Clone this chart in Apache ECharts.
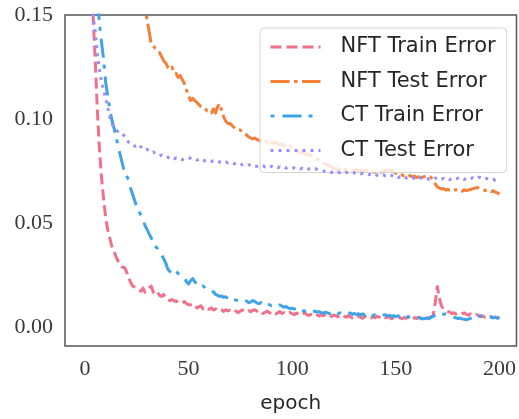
<!DOCTYPE html>
<html>
<head>
<meta charset="utf-8">
<script src="https://cdn.jsdelivr.net/npm/echarts@6/dist/echarts.min.js"></script>
<style>
html,body{margin:0;padding:0;background:#fff;}
#chart{width:519px;height:419px;}
</style>
</head>
<body>
<div id="chart"></div>
<script>
var seriesNames = ["NFT Train Error", "NFT Test Error", "CT Train Error", "CT Test Error"];
var xTickValues = [0, 50, 100, 150, 200];
var yTickValues = [0, 0.05, 0.10, 0.15];
var xAxisName = "epoch";

var nftTrain = [
0.45,0.28,0.19,0.148,0.128,0.104,0.086,0.072,0.062,0.053,
0.047,0.043,0.039,0.037,0.034,0.032,0.030,0.029,0.029,0.027,
0.024,0.022,0.020,0.0195,0.019,0.018,0.0175,0.019,0.017,0.018,
0.019,0.020,0.017,0.016,0.017,0.0155,0.015,0.016,0.014,0.0135,
0.013,0.0135,0.013,0.0125,0.013,0.0128,0.012,0.0125,0.0115,0.011,
0.011,0.0105,0.011,0.0095,0.010,0.0105,0.009,0.0098,0.0092,0.0088,
0.0095,0.0085,0.009,0.0082,0.0088,0.0085,0.0078,0.0086,0.008,0.0084,
0.0076,0.0082,0.0079,0.0072,0.008,0.0085,0.0078,0.0074,0.0081,0.0077,
0.0083,0.0086,0.0079,0.0071,0.0076,0.0068,0.0074,0.0079,0.0072,0.0069,
0.0075,0.0066,0.0071,0.0077,0.0068,0.0072,0.0064,0.0069,0.0073,0.0067,
0.0062,0.007,0.0065,0.0059,0.0066,0.0071,0.0063,0.0058,0.0064,0.006,
0.0067,0.0061,0.0056,0.0063,0.0057,0.0062,0.0068,0.0059,0.0054,0.0061,
0.0057,0.0052,0.0059,0.0063,0.0055,0.005,0.0058,0.0053,0.0047,0.0055,
0.005,0.0056,0.0049,0.0045,0.0053,0.0058,0.0051,0.0046,0.0052,0.0048,
0.0055,0.005,0.0044,0.0051,0.0047,0.0053,0.0049,0.0043,0.005,0.0046,
0.0052,0.0047,0.0043,0.0049,0.0045,0.0051,0.0046,0.0042,0.0048,0.0044,
0.005,0.0046,0.0041,0.0047,0.0045,0.0049,0.0052,0.0058,0.012,0.0198,
0.014,0.0105,0.009,0.0082,0.0078,0.0074,0.0068,0.0072,0.0065,0.0069,
0.0063,0.0067,0.0071,0.0064,0.006,0.0066,0.0061,0.0057,0.0063,0.0058,
0.0052,0.0056,0.005,0.0054,0.0049,0.0053,0.0047,0.0051,0.0046,0.0049
];

var nftTest = [
0.52,0.45,0.40,0.36,0.33,0.30,0.28,0.26,0.245,0.23,
0.22,0.21,0.20,0.195,0.19,0.185,0.18,0.176,0.172,0.169,
0.166,0.164,0.162,0.160,0.158,0.157,0.155,0.154,0.152,0.148,
0.142,0.136,0.135,0.134,0.133,0.132,0.130,0.128,0.127,0.125,
0.124,0.125,0.122,0.122,0.120,0.121,0.119,0.117,0.114,0.111,
0.109,0.110,0.109,0.108,0.107,0.106,0.1057,0.105,0.104,0.104,
0.103,0.105,0.103,0.106,0.1075,0.104,0.101,0.099,0.098,0.098,
0.097,0.096,0.095,0.095,0.0948,0.094,0.093,0.0925,0.0915,0.091,
0.0905,0.091,0.0902,0.090,0.0895,0.0905,0.0898,0.089,0.090,0.0888,
0.0885,0.089,0.088,0.0875,0.0882,0.087,0.0876,0.0865,0.087,0.0862,
0.0858,0.085,0.0845,0.084,0.0842,0.0835,0.083,0.0834,0.0825,0.082,
0.0815,0.081,0.0805,0.0798,0.079,0.0785,0.078,0.0776,0.077,0.0765,
0.076,0.0762,0.0758,0.0764,0.0756,0.076,0.0754,0.0758,0.0752,0.0756,
0.0759,0.0753,0.0757,0.075,0.0754,0.0755,0.0749,0.0752,0.0747,0.0745,
0.0749,0.0744,0.0748,0.075,0.0754,0.0757,0.0753,0.0755,0.0748,0.0741,
0.0735,0.073,0.0733,0.0728,0.0731,0.0726,0.073,0.0724,0.0727,0.072,
0.0724,0.0719,0.0722,0.0726,0.073,0.0727,0.0721,0.0705,0.069,0.0675,
0.067,0.0665,0.0668,0.066,0.0663,0.066,0.0664,0.0658,0.0662,0.0657,
0.066,0.0655,0.0661,0.0658,0.066,0.0663,0.0666,0.0669,0.0672,0.067,
0.0665,0.0661,0.0658,0.0662,0.0655,0.0652,0.0657,0.065,0.0646,0.0642
];

var ctTrain = [
0.6,0.4,0.28,0.21,0.175,0.158,0.146,0.137,0.129,0.118,
0.111,0.105,0.0995,0.096,0.092,0.087,0.083,0.079,0.075,0.073,
0.071,0.067,0.064,0.061,0.058,0.056,0.054,0.052,0.049,0.047,
0.045,0.043,0.041,0.039,0.038,0.036,0.035,0.033,0.031,0.028,
0.027,0.028,0.027,0.027,0.026,0.025,0.0245,0.024,0.022,0.021,
0.0225,0.0236,0.022,0.021,0.020,0.0195,0.020,0.019,0.0185,0.018,
0.017,0.0172,0.016,0.0155,0.015,0.0152,0.0145,0.0148,0.014,0.0138,
0.0142,0.0135,0.0132,0.013,0.0134,0.0127,0.0124,0.0128,0.012,0.0123,
0.013,0.0126,0.0118,0.0115,0.012,0.0112,0.0109,0.0114,0.011,0.0106,
0.0112,0.0108,0.0104,0.0109,0.0104,0.0098,0.0102,0.0095,0.0091,0.0094,
0.0089,0.0092,0.0085,0.0088,0.0083,0.0079,0.0084,0.0078,0.0081,0.0076,
0.0079,0.0074,0.0077,0.0072,0.007,0.0074,0.0071,0.0067,0.0072,0.0069,
0.0073,0.0068,0.0071,0.0066,0.007,0.0065,0.0069,0.007,0.0064,0.0068,
0.0063,0.0067,0.0061,0.0066,0.006,0.0064,0.0059,0.0063,0.0058,0.0062,
0.0057,0.0061,0.0056,0.006,0.0062,0.0056,0.0059,0.0054,0.0058,0.0053,
0.0057,0.0052,0.0056,0.0051,0.0055,0.005,0.0054,0.0049,0.0052,0.0048,
0.0047,0.0045,0.0042,0.0044,0.0046,0.0043,0.005,0.0054,0.0057,0.0055,
0.0058,0.0062,0.0064,0.0066,0.0063,0.0058,0.0055,0.005,0.0047,0.0044,
0.0046,0.0042,0.004,0.0038,0.0041,0.0045,0.0049,0.0052,0.0055,0.0053,
0.0057,0.0054,0.005,0.0052,0.0048,0.0051,0.0047,0.005,0.0046,0.0048
];

var ctTest = [
0.5,0.3,0.2,0.149,0.142,0.131,0.124,0.118,0.114,0.110,
0.1057,0.101,0.098,0.096,0.095,0.094,0.093,0.093,0.092,0.0905,
0.089,0.0887,0.088,0.087,0.0872,0.086,0.0868,0.0858,0.0852,0.0856,
0.0845,0.084,0.0843,0.0835,0.0832,0.0825,0.0828,0.082,0.0816,0.0818,
0.0812,0.0816,0.081,0.0814,0.0808,0.081,0.0806,0.0812,0.0815,0.0816,
0.0812,0.0808,0.081,0.0804,0.0808,0.0802,0.0806,0.08,0.0804,0.0801,
0.0798,0.08,0.0796,0.0799,0.0794,0.0797,0.0792,0.0795,0.079,0.0793,
0.079,0.0786,0.0789,0.0784,0.0787,0.0781,0.0784,0.0779,0.0782,0.0777,
0.078,0.0775,0.0774,0.0778,0.0773,0.0776,0.0771,0.0775,0.077,0.0774,
0.0769,0.0772,0.0768,0.0771,0.0766,0.077,0.0765,0.0769,0.0769,0.0765,
0.0767,0.0763,0.0766,0.0762,0.0765,0.076,0.0764,0.0761,0.0763,0.0759,
0.0762,0.076,0.0757,0.0755,0.0752,0.075,0.0748,0.0751,0.0745,0.0748,
0.0744,0.0747,0.0743,0.0746,0.0742,0.0745,0.0741,0.0744,0.074,0.0743,
0.0739,0.0742,0.0738,0.0741,0.074,0.0737,0.0734,0.0738,0.0732,0.0735,
0.0731,0.0734,0.073,0.0733,0.0728,0.0731,0.0727,0.073,0.0725,0.0728,
0.072,0.0724,0.0719,0.0723,0.0718,0.0722,0.0717,0.0721,0.0716,0.072,
0.0715,0.0719,0.0714,0.0718,0.0716,0.0712,0.0717,0.0714,0.0718,0.0713,
0.0717,0.0712,0.0716,0.0711,0.0715,0.071,0.0714,0.0709,0.0713,0.0717,
0.0712,0.0716,0.0711,0.0717,0.072,0.0715,0.0719,0.0714,0.0718,0.0722,
0.072,0.0724,0.0718,0.0715,0.0712,0.0709,0.0712,0.0707,0.071,0.0706
];

var colors = ["#f0728a", "#f47f38", "#3fa3e8", "#9a8ef8"];
var dashes = [[11, 5], [19, 4.5, 3.5, 4.5], [4, 8, 19, 7], [3, 5]];
var allValues = [nftTrain, nftTest, ctTrain, ctTest];

function pairs(arr) {
  var out = [];
  for (var i = 0; i < arr.length; i++) out.push([i + 1, arr[i]]);
  return out;
}

var series = seriesNames.map(function (name, k) {
  return {
    name: name,
    type: 'line',
    data: pairs(allValues[k]),
    symbol: 'none',
    showSymbol: false,
    clip: true,
    z: 2 + k,
    lineStyle: { color: colors[k], width: 3, type: dashes[k], cap: 'butt', join: 'round' },
    itemStyle: { color: colors[k] },
    animation: false
  };
});

var legendData = seriesNames.map(function (name, k) {
  return {
    name: name,
    itemStyle: { opacity: 0 },
    lineStyle: { color: colors[k], width: 3, type: dashes[k], cap: 'butt', opacity: 1 }
  };
});

var chart = echarts.init(document.getElementById('chart'), null, { renderer: 'canvas' });
chart.setOption({
  animation: false,
  backgroundColor: '#ffffff',
  grid: {
    left: 65, right: 2, top: 15, bottom: 65,
    show: true, borderColor: '#555555', borderWidth: 1.5, backgroundColor: 'transparent'
  },
  legend: {
    orient: 'vertical',
    left: 260, top: 28,
    padding: [7, 11, 10, 9],
    itemGap: 10.5,
    itemWidth: 50, itemHeight: 14,
    backgroundColor: 'rgba(255,255,255,0.8)',
    borderColor: '#d3d3d3', borderWidth: 1, borderRadius: 4,
    textStyle: { fontFamily: 'DejaVu Sans', fontSize: 21, color: '#262626', lineHeight: 24, padding: [0, 0, 0, 15] },
    data: legendData
  },
  xAxis: {
    type: 'value',
    min: -9.6, max: 208.2,
    name: xAxisName,
    nameLocation: 'middle',
    nameGap: 48,
    nameTextStyle: { fontFamily: 'DejaVu Sans', fontSize: 20, color: '#262626' },
    axisLine: { show: false },
    axisTick: { show: false },
    splitLine: { show: false },
    axisLabel: {
      customValues: xTickValues,
      margin: 12,
      fontFamily: 'Liberation Serif', fontSize: 22, color: '#3a3a3a',
      formatter: function (v) { return String(v); }
    }
  },
  yAxis: {
    type: 'value',
    min: -0.0088, max: 0.15,
    axisLine: { show: false },
    axisTick: { show: false },
    splitLine: { show: false },
    axisLabel: {
      customValues: yTickValues,
      margin: 12,
      fontFamily: 'Liberation Serif', fontSize: 22, color: '#3a3a3a',
      formatter: function (v) { return v.toFixed(2); }
    }
  },
  series: series
});
</script>
</body>
</html>
